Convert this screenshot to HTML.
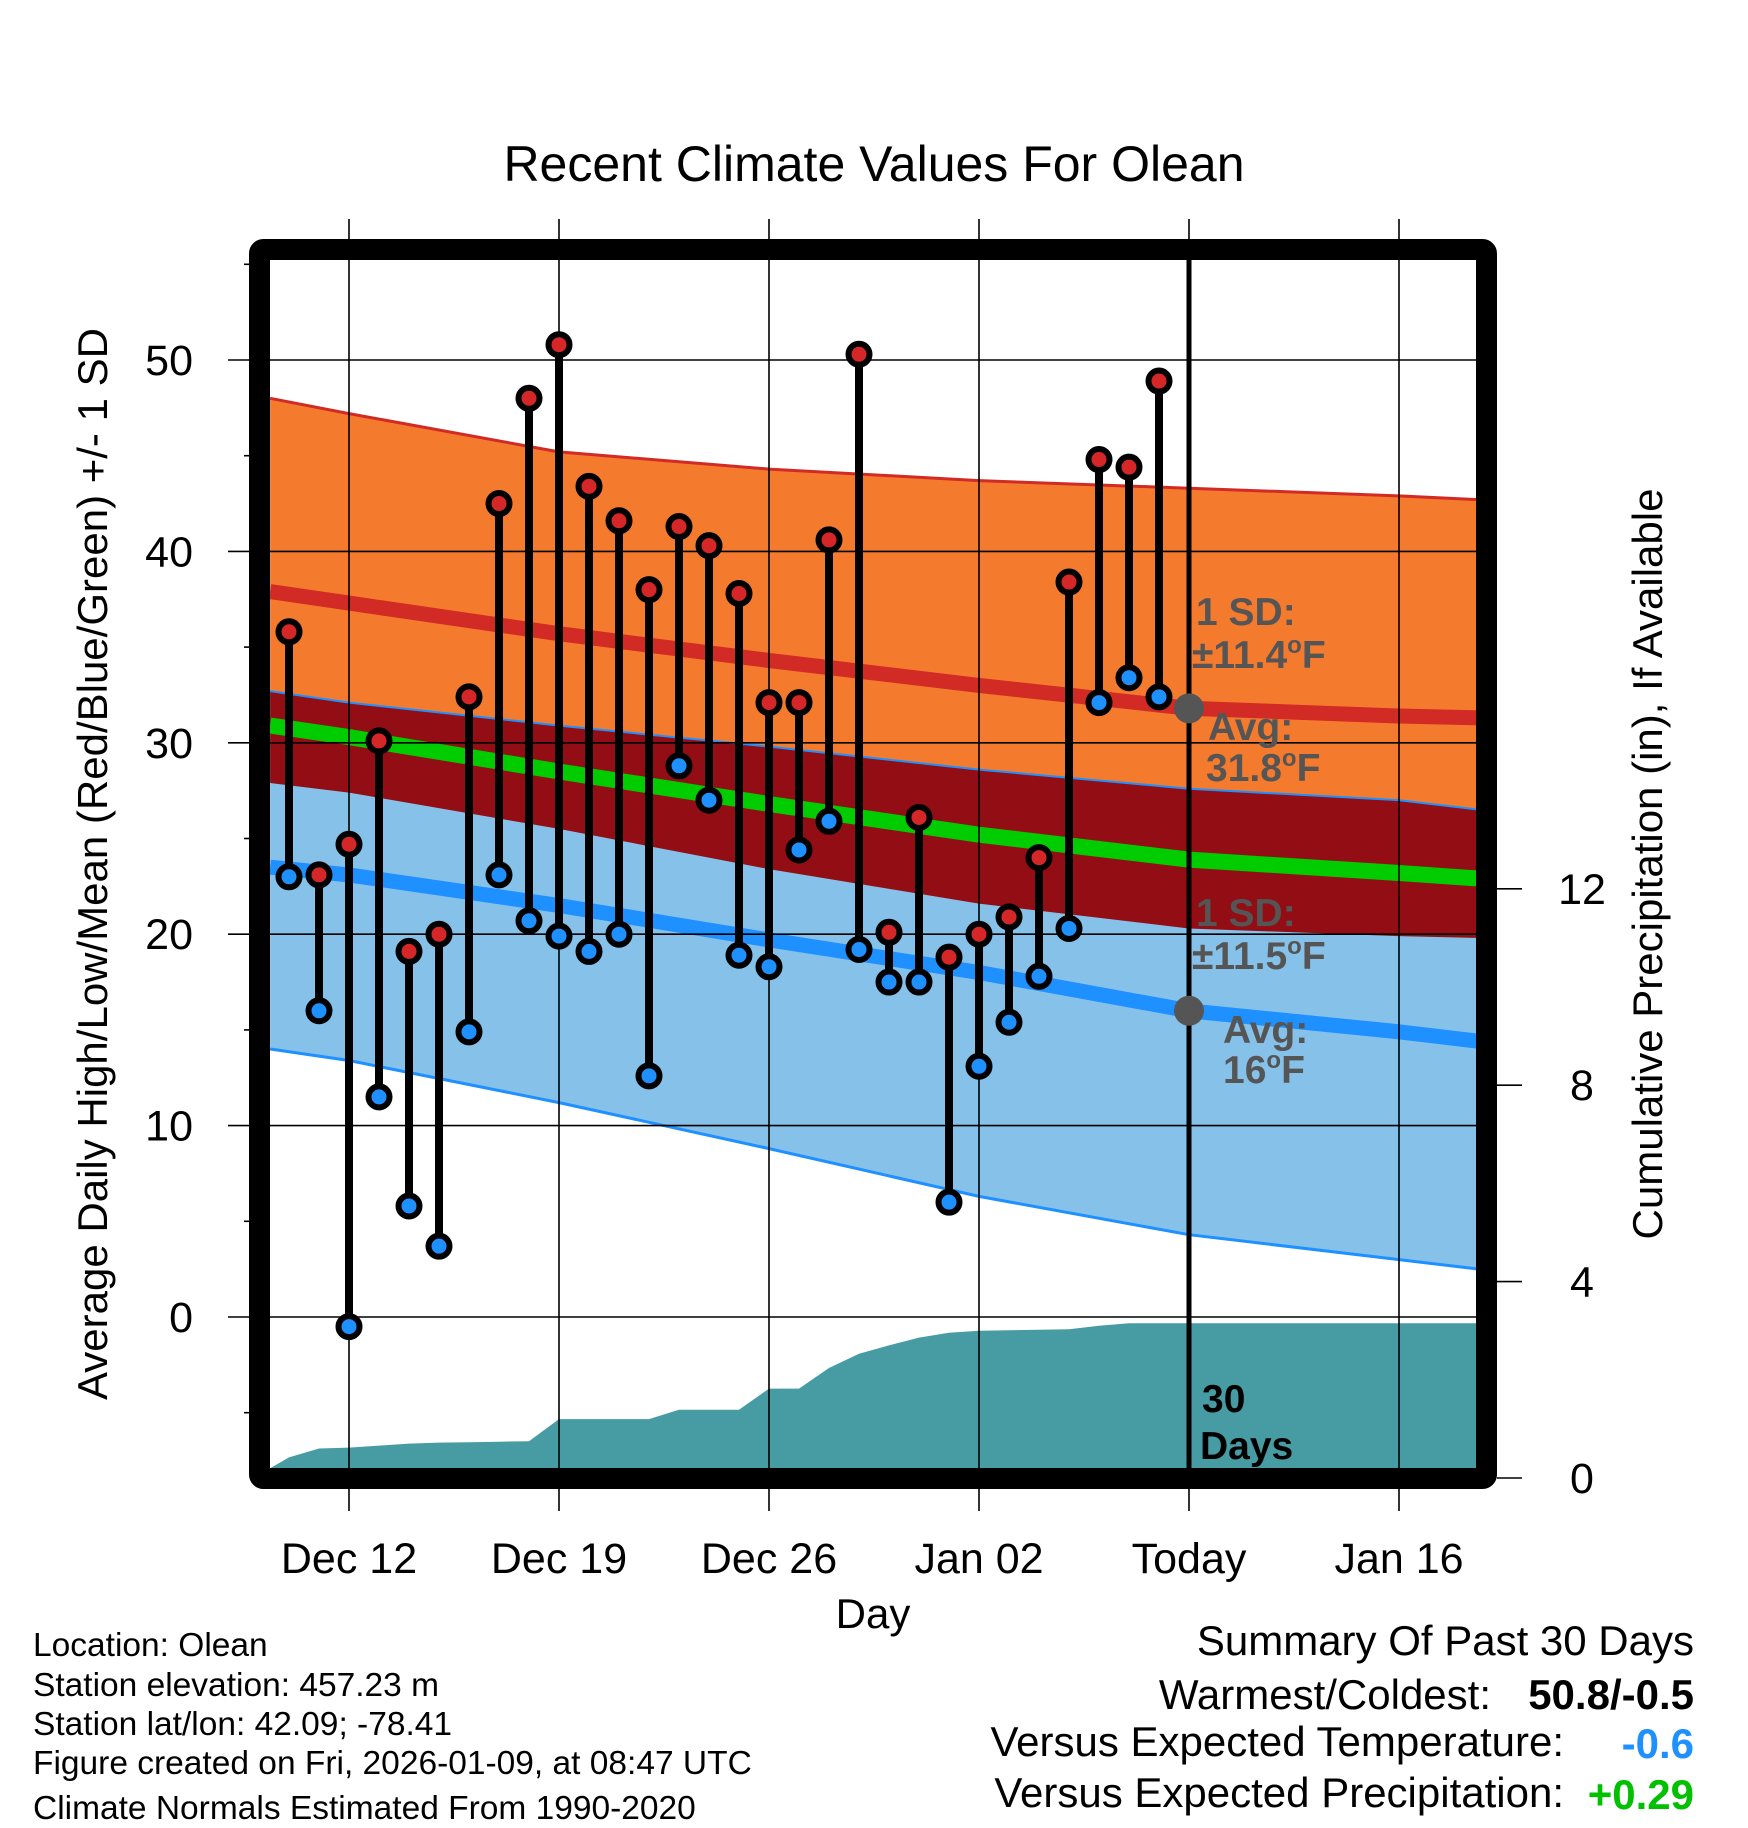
<!DOCTYPE html>
<html><head><meta charset="utf-8"><style>
html,body{margin:0;padding:0;background:#fff}
svg{display:block}
text{font-family:"Liberation Sans",Arial,sans-serif}
</style></head><body>
<svg id="chart" width="1748" height="1828" viewBox="0 0 1748 1828" xmlns="http://www.w3.org/2000/svg">
<text x="874" y="181" font-size="50" text-anchor="middle">Recent Climate Values For Olean</text>
<g id="plot"></g>
<text transform="translate(107,864) rotate(-90)" font-size="42" text-anchor="middle">Average Daily High/Low/Mean (Red/Blue/Green) +/- 1 SD</text>
<text transform="translate(1662,864) rotate(-90)" font-size="42" text-anchor="middle">Cumulative Precipitation (in), If Available</text>
<text x="873" y="1628" font-size="42" text-anchor="middle">Day</text>
<g font-size="33.5">
<text x="33" y="1656">Location: Olean</text>
<text x="33" y="1696">Station elevation: 457.23 m</text>
<text x="33" y="1735">Station lat/lon: 42.09; -78.41</text>
<text x="33" y="1774">Figure created on Fri, 2026-01-09, at 08:47 UTC</text>
<text x="33" y="1819">Climate Normals Estimated From 1990-2020</text>
</g>
<g font-size="42" text-anchor="end">
<text x="1694" y="1655">Summary Of Past 30 Days</text>
<text x="1491" y="1709">Warmest/Coldest:</text>
<text x="1694" y="1709" font-weight="bold">50.8/-0.5</text>
<text x="1564" y="1756">Versus Expected Temperature:</text>
<text x="1694" y="1758" font-weight="bold" fill="#1e90ff">-0.6</text>
<text x="1564" y="1807">Versus Expected Precipitation:</text>
<text x="1694" y="1809" font-weight="bold" fill="#00c000">+0.29</text>
</g>
</svg>
<script>
// day offsets relative to Dec 12
const obsDays=[-2,-1,0,1,2,3,4,5,6,7,8,9,10,11,12,13,14,15,16,17,18,19,20,21,22,23,24,25,26,27];
const highs=[35.8,23.1,24.7,30.1,19.1,20.0,32.4,42.5,48.0,50.8,43.4,41.6,38.0,41.3,40.3,37.8,32.1,32.1,40.6,50.3,20.1,26.1,18.8,20.0,20.9,24.0,38.4,44.8,44.4,48.9];
const lows=[23.0,16.0,-0.5,11.5,5.8,3.7,14.9,23.1,20.7,19.9,19.1,20.0,12.6,28.8,27.0,18.9,18.3,24.4,25.9,19.2,17.5,17.5,6.0,13.1,15.4,17.8,20.3,32.1,33.4,32.4];
const normDays=[-2.63,0,7,14,21,28,35,37.7];
const highUpper=[48.0,47.2,45.2,44.3,43.7,43.3,42.9,42.7];
const highAvg=[37.9,37.3,35.7,34.3,33.0,31.8,31.4,31.3];
const highLower=[27.9,27.4,25.5,23.4,21.6,20.3,19.9,19.8];
const lowUpper=[32.7,32.1,30.9,29.8,28.6,27.6,27.0,26.5];
const lowAvg=[23.5,23.1,21.5,19.7,18.0,16.0,14.9,14.4];
const lowLower=[14.0,13.4,11.2,8.8,6.3,4.3,3.0,2.5];
const meanAvg=[30.9,30.3,28.5,26.8,25.2,23.9,23.2,22.9];
const precipDays=[-2.63,-2,-1,0,1,2,3,4,5,6,7,8,9,10,11,12,13,14,15,16,17,18,19,20,21,22,23,24,25,26,27,28,37.7];
const precip=[0.2,0.42,0.6,0.62,0.66,0.7,0.72,0.73,0.74,0.75,1.2,1.2,1.2,1.2,1.39,1.39,1.39,1.82,1.82,2.24,2.53,2.7,2.86,2.96,3.0,3.01,3.02,3.03,3.1,3.15,3.15,3.15,3.15];
const xTickDays=[0,7,14,21,28,35];
const xTickLabels=["Dec 12","Dec 19","Dec 26","Jan 02","Today","Jan 16"];
const yTicks=[0,10,20,30,40,50];
const yMinor=[-5,5,15,25,35,45,55];
const y2Ticks=[0,4,8,12];
const todayDay=28;

const L=270,R=1480,T=260,B=1469;
const X=d=>349+d*30;
const Y=v=>1317-v*19.14;
const Y2=v=>1478-v*49.1;
const NS="http://www.w3.org/2000/svg";
const g=document.getElementById('plot');
function mk(tag,attrs,parent){const e=document.createElementNS(NS,tag);for(const k in attrs)e.setAttribute(k,attrs[k]);(parent||g).appendChild(e);return e;}
function pts(days,vals,fy){return days.map((d,i)=>X(d).toFixed(1)+','+fy(vals[i]).toFixed(1));}
function band(up,lo){return pts(normDays,up,Y).concat(pts(normDays,lo,Y).reverse()).join(' ');}

const clip=mk('clipPath',{id:'pc'});mk('rect',{x:L,y:T,width:R-L,height:B-T},clip);
const pg=mk('g',{'clip-path':'url(#pc)'});
let e;
e=mk('polygon',{points:band(highUpper,highLower),fill:'#f47a2e'},pg);


e=mk('polygon',{points:band(lowUpper,lowLower),fill:'#85c1e9'},pg);


const ov=normDays.map((d,i)=>Math.min(highUpper[i],lowUpper[i]));
e=mk('polygon',{points:band(ov,highLower),fill:'#920d14'},pg);


e=mk('polyline',{points:pts(normDays,highUpper,Y).join(' '),fill:'none',stroke:'#d22a24',"stroke-width":3},pg);


e=mk('polyline',{points:pts(normDays,lowUpper,Y).join(' '),fill:'none',stroke:'#1e90ff',"stroke-width":2},pg);


e=mk('polyline',{points:pts(normDays,lowLower,Y).join(' '),fill:'none',stroke:'#1e90ff',"stroke-width":3},pg);


e=mk('polyline',{points:pts(normDays,highAvg,Y).join(' '),fill:'none',stroke:'#d22a24',"stroke-width":15},pg);


e=mk('polyline',{points:pts(normDays,meanAvg,Y).join(' '),fill:'none',stroke:'#00cc00',"stroke-width":16},pg);


e=mk('polyline',{points:pts(normDays,lowAvg,Y).join(' '),fill:'none',stroke:'#1e90ff',"stroke-width":15},pg);


const pp=pts(precipDays,precip,Y2);
pp.push(X(precipDays[precipDays.length-1])+','+(B+20));pp.push(X(precipDays[0])+','+(B+20));
e=mk('polygon',{points:pp.join(' '),fill:'#479ba3'},pg);


yTicks.forEach(v=>{e=mk('line',{x1:228,x2:R,y1:Y(v),y2:Y(v),stroke:'#000','stroke-width':1.6});


e=mk('text',{x:193,y:Y(v)+15,'font-size':43,'text-anchor':'end'});e.textContent=v;

});
yMinor.forEach(v=>{e=mk('line',{x1:244,x2:260,y1:Y(v),y2:Y(v),stroke:'#000','stroke-width':1.6});

});
xTickDays.forEach((d,i)=>{e=mk('line',{x1:X(d),x2:X(d),y1:219,y2:1511,stroke:'#000','stroke-width':1.6});


e=mk('text',{x:X(d),y:1573,'font-size':43,'text-anchor':'middle'});e.textContent=xTickLabels[i];

});
y2Ticks.forEach(v=>{e=mk('line',{x1:1497,x2:1522,y1:Y2(v),y2:Y2(v),stroke:'#000','stroke-width':1.6});


e=mk('text',{x:1582,y:Y2(v)+15,'font-size':43,'text-anchor':'middle'});e.textContent=v;

});
e=mk('line',{x1:X(todayDay),x2:X(todayDay),y1:T,y2:B,stroke:'#000','stroke-width':5});


obsDays.forEach((d,i)=>{e=mk('line',{x1:X(d),x2:X(d),y1:Y(highs[i]),y2:Y(lows[i]),stroke:'#000','stroke-width':8});

});
obsDays.forEach((d,i)=>{
e=mk('circle',{cx:X(d),cy:Y(highs[i]),r:10.5,fill:'#d62728',stroke:'#000','stroke-width':6});


e=mk('circle',{cx:X(d),cy:Y(lows[i]),r:10.5,fill:'#1e90ff',stroke:'#000','stroke-width':6});

});
e=mk('circle',{cx:X(todayDay),cy:Y(highAvg[5]),r:15,fill:'#555'});


e=mk('circle',{cx:X(todayDay),cy:Y(lowAvg[5]),r:15,fill:'#555'});


function ann(x,y,txt,name,fill){const t=mk('text',{x:x,y:y,'font-size':39,'font-weight':'bold',fill:fill||'#555'});t.innerHTML=txt;

}
ann(1196,625,'1 SD:','high-sd-label');
ann(1192,668,'±11.4<tspan dy="-15" font-size="24">o</tspan><tspan dy="15">F</tspan>','high-sd-value');
ann(1208,740,'Avg:','high-avg-label');
ann(1206,781,'31.8<tspan dy="-15" font-size="24">o</tspan><tspan dy="15">F</tspan>','high-avg-value');
ann(1196,926,'1 SD:','low-sd-label');
ann(1192,969,'±11.5<tspan dy="-15" font-size="24">o</tspan><tspan dy="15">F</tspan>','low-sd-value');
ann(1223,1043,'Avg:','low-avg-label');
ann(1223,1083,'16<tspan dy="-15" font-size="24">o</tspan><tspan dy="15">F</tspan>','low-avg-value');
ann(1202,1412,'30','days-count','#000');
ann(1200,1459,'Days','days-label','#000');
e=mk('rect',{x:259.5,y:249.5,width:1227,height:1229,fill:'none',stroke:'#000','stroke-width':21,rx:4});


</script>
</body></html>
